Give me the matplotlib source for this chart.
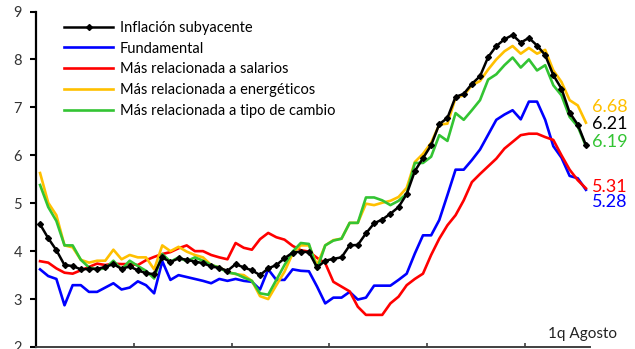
"""
Inflación subyacente y sus componentes por tipo de presión (variación anual, %).
Serie mensual ene-2018 a jul-2023, último dato 1a quincena de agosto.
"""

import matplotlib
matplotlib.use("Agg")
import matplotlib.pyplot as plt
import numpy as np

# ── Datos ─────────────────────────────────────────────────────────────────────
periodos = [f"{m:02d}-{a}" for a in range(2018, 2024) for m in range(1, 13)][:67] + ["1q-08-2023"]

subyacente = [
    4.56, 4.27, 4.02, 3.71, 3.69, 3.62, 3.63, 3.63, 3.67, 3.73, 3.63, 3.68,
    3.60, 3.54, 3.52, 3.87, 3.77, 3.85, 3.82, 3.78, 3.75, 3.68, 3.65, 3.59,
    3.73, 3.66, 3.60, 3.50, 3.64, 3.71, 3.85, 3.97, 3.99, 3.98, 3.66, 3.80,
    3.84, 3.87, 4.12, 4.13, 4.37, 4.58, 4.66, 4.78, 4.92, 5.19, 5.67, 5.94,
    6.21, 6.65, 6.78, 7.22, 7.28, 7.49, 7.65, 8.05, 8.28, 8.42, 8.51, 8.35,
    8.45, 8.29, 8.09, 7.67, 7.39, 6.89, 6.64, 6.21,
]
fundamental = [
    3.62, 3.48, 3.42, 2.87, 3.29, 3.29, 3.15, 3.15, 3.24, 3.33, 3.20, 3.24,
    3.37, 3.29, 3.12, 3.79, 3.40, 3.50, 3.46, 3.42, 3.38, 3.33, 3.42, 3.38,
    3.42, 3.38, 3.36, 3.20, 3.62, 3.40, 3.40, 3.62, 3.59, 3.58, 3.26, 2.91,
    3.03, 3.03, 3.15, 2.99, 3.03, 3.28, 3.28, 3.28, 3.40, 3.53, 3.95, 4.33,
    4.33, 4.65, 5.17, 5.70, 5.70, 5.90, 6.12, 6.43, 6.74, 6.85, 6.94, 6.75,
    7.12, 7.12, 6.74, 6.19, 5.95, 5.57, 5.52, 5.28,
]
salarios = [
    3.79, 3.76, 3.64, 3.55, 3.53, 3.60, 3.67, 3.74, 3.71, 3.74, 3.73, 3.73,
    3.71, 3.81, 3.88, 3.94, 3.98, 4.06, 4.12, 4.00, 4.00, 3.92, 3.87, 3.83,
    4.17, 4.07, 4.03, 4.25, 4.38, 4.29, 4.24, 4.11, 4.02, 3.99, 3.86, 3.75,
    3.36, 3.26, 3.16, 2.84, 2.67, 2.67, 2.67, 2.91, 3.05, 3.29, 3.42, 3.53,
    3.92, 4.26, 4.54, 4.75, 5.06, 5.44, 5.61, 5.77, 5.93, 6.14, 6.28, 6.42,
    6.45, 6.45, 6.38, 6.32, 6.00, 5.70, 5.48, 5.31,
]
energeticos = [
    5.63, 5.01, 4.75, 4.12, 4.08, 3.82, 3.76, 3.80, 3.80, 4.03, 3.83, 3.92,
    3.87, 3.87, 3.62, 4.12, 4.00, 4.09, 3.99, 3.92, 3.87, 3.71, 3.66, 3.57,
    3.52, 3.50, 3.38, 3.06, 3.00, 3.29, 3.57, 3.95, 4.12, 4.12, 3.71, 4.12,
    4.23, 4.26, 4.59, 4.59, 4.99, 4.96, 5.01, 5.05, 5.13, 5.32, 5.86, 6.03,
    6.26, 6.64, 6.66, 7.20, 7.25, 7.46, 7.55, 7.79, 8.00, 8.17, 8.28, 8.12,
    8.24, 8.12, 8.20, 7.77, 7.53, 7.15, 7.04, 6.68,
]
tipo_cambio = [
    5.38, 4.92, 4.63, 4.12, 4.12, 3.82, 3.66, 3.62, 3.64, 3.80, 3.62, 3.80,
    3.69, 3.59, 3.43, 3.94, 3.78, 3.87, 3.79, 3.87, 3.80, 3.71, 3.66, 3.55,
    3.53, 3.45, 3.38, 3.12, 3.09, 3.40, 3.71, 3.99, 4.17, 4.15, 3.62, 4.12,
    4.22, 4.26, 4.59, 4.59, 5.12, 5.12, 5.06, 4.96, 5.05, 5.20, 5.84, 5.84,
    5.97, 6.42, 6.30, 6.88, 6.74, 6.94, 7.15, 7.58, 7.69, 7.88, 8.04, 7.83,
    8.00, 7.77, 7.88, 7.46, 7.25, 6.80, 6.60, 6.19,
]

etiquetas = [
    "Inflación subyacente",
    "Fundamental",
    "Más relacionada a salarios",
    "Más relacionada a energéticos",
    "Más relacionada a tipo de cambio",
]
colores = ["#000000", "#0000FF", "#FF0000", "#FFC000", "#33C433"]

# ── Estilo ────────────────────────────────────────────────────────────────────
plt.rcParams["font.family"] = ["Lato", "DejaVu Sans"]

x = np.arange(len(periodos))
series = [subyacente, fundamental, salarios, energeticos, tipo_cambio]

fig = plt.figure(figsize=(6.35, 3.49), dpi=100)
ax = fig.add_axes([36 / 635, 2 / 349, 554 / 635, 335.5 / 349])

# la subyacente va al final para quedar por encima del resto
orden = [1, 2, 3, 4, 0]
lineas = {}
for k in orden:
    if k == 0:
        (ln,) = ax.plot(x, series[k], color=colores[k], lw=1.8, marker="D",
                        markersize=3.0, label=etiquetas[k], zorder=3)
    else:
        (ln,) = ax.plot(x, series[k], color=colores[k], lw=1.9,
                        label=etiquetas[k], zorder=2)
    lineas[k] = ln

# ── Ejes ──────────────────────────────────────────────────────────────────────
ax.set_xlim(-0.5, len(periodos) - 0.5)
ax.set_ylim(2, 9)
ax.set_yticks(range(2, 10))
ax.set_xticks(np.arange(-0.5, len(periodos) - 1, 12))
ax.set_xticklabels([])
ax.tick_params(axis="x", direction="in", length=3, width=1.2, color="#404040")
ax.tick_params(axis="y", direction="out", length=4, width=1.5, labelsize=10.5,
               labelcolor="#333333", pad=6)
for s in ["top", "right"]:
    ax.spines[s].set_visible(False)
ax.spines["left"].set_linewidth(1.6)
ax.spines["bottom"].set_linewidth(1.4)
ax.spines["bottom"].set_color("#404040")

# ── Leyenda ───────────────────────────────────────────────────────────────────
ax.legend(
    [lineas[k] for k in range(5)], etiquetas,
    loc="upper left", bbox_to_anchor=(22 / 554, 0.99),
    frameon=False, fontsize=10.5, handlelength=3.4, handletextpad=0.45,
    labelspacing=0.47, borderpad=0.2, borderaxespad=0.2,
)

# ── Etiquetas del último dato ─────────────────────────────────────────────────
pos_etiqueta = [6.65, 5.02, 5.33, 7.01, 6.27]
for k in range(5):
    ax.text(len(periodos) - 0.3, pos_etiqueta[k], f"{series[k][-1]:.2f}",
            color=colores[k], fontsize=13, ha="left", va="center", clip_on=False)

fig.text(548 / 635, 1 - 334 / 349, "1q Agosto", fontsize=11, ha="left",
         va="center", color="#222222")

fig.savefig("out.png", dpi=100)
plt.close(fig)
